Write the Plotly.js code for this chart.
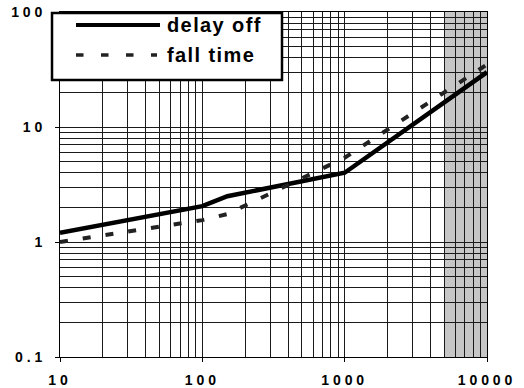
<!DOCTYPE html>
<html>
<head>
<meta charset="utf-8">
<script src="https://cdn.plot.ly/plotly-3.0.1.min.js"></script>
<style>
  html, body { margin: 0; padding: 0; background: #fff; }
  #chart { width: 524px; height: 388px; }
  .xtick text, .ytick text { letter-spacing: 3.9px; }
  .annotation-text { letter-spacing: 1.4px; }
</style>
</head>
<body>
<div id="chart"></div>
<script>
// Switching time versus load (log-log)
const delayOffX = [10, 100, 150, 1000, 10000];
const delayOffY = [1.2, 2.05, 2.5, 4.0, 30];

const fallTimeX = [10, 100, 150, 1000, 10000];
const fallTimeY = [1.0, 1.55, 1.75, 5.4, 35];

const seriesNames = ['delay off', 'fall time'];

const xTickVals = [10, 100, 1000, 10000];
const xTickText = ['10', '100', '1000', '10000'];
const yTickVals = [0.1, 1, 10, 100];
const yTickText = ['0.1', '1', '10', '100'];

// shaded band at the top end of the range
const bandFrom = 5000;
const bandTo = 10000;

// 2..9 subdivisions of each decade for the fine grid
function decadeSubdivisions(first, last) {
  const out = [];
  for (let d = first; d < last; d *= 10) {
    for (let k = 2; k <= 9; k++) out.push(d * k);
  }
  return out;
}
const xMinor = decadeSubdivisions(10, 10000);
const yMinor = decadeSubdivisions(0.1, 100);

const fontFamily = 'Liberation Sans, Arial, sans-serif';
const tickFont = { family: fontFamily, size: 14, color: '#000', weight: 700 };
const gridColor = '#1a1a1a';

const lineStyles = [
  { color: '#000', width: 4.5 },
  { color: '#222', width: 4, dash: '8px,15px' }
];

const traces = [
  {
    name: seriesNames[0],
    x: delayOffX, y: delayOffY,
    type: 'scatter', mode: 'lines',
    line: lineStyles[0]
  },
  {
    name: seriesNames[1],
    x: fallTimeX, y: fallTimeY,
    type: 'scatter', mode: 'lines',
    line: lineStyles[1]
  }
];

const axisCommon = {
  type: 'log',
  tickmode: 'array',
  ticks: 'outside', ticklen: 4, tickwidth: 1, tickcolor: '#000',
  showgrid: true, gridcolor: gridColor, gridwidth: 1,
  showline: true, linecolor: '#000', linewidth: 1, mirror: true,
  zeroline: false,
  tickfont: tickFont
};

// boxed key in the upper-left corner (paper coordinates)
const key = {
  x0: -0.0187, x1: 0.5199, y0: 0.8029, y1: 0.9971,
  sampleX0: 0.0375, sampleX1: 0.2342, dashedX1: 0.2272,
  textX: 0.2459,
  rowY: [0.9623, 0.8754]
};

const shapes = [
  {
    type: 'rect', xref: 'x', yref: 'paper',
    x0: bandFrom, x1: bandTo, y0: 0, y1: 1,
    fillcolor: '#c6c6c6', line: { width: 0 }, layer: 'below'
  },
  {
    type: 'rect', xref: 'paper', yref: 'paper',
    x0: key.x0, x1: key.x1, y0: key.y0, y1: key.y1,
    fillcolor: '#fff', line: { color: '#000', width: 2.5 }, layer: 'above'
  },
  {
    type: 'line', xref: 'paper', yref: 'paper',
    x0: key.sampleX0, x1: key.sampleX1, y0: key.rowY[0], y1: key.rowY[0],
    line: { color: lineStyles[0].color, width: 4 }, layer: 'above'
  },
  {
    type: 'line', xref: 'paper', yref: 'paper',
    x0: key.sampleX0, x1: key.dashedX1, y0: key.rowY[1], y1: key.rowY[1],
    line: { color: lineStyles[1].color, width: 3.5, dash: '7.5px,17.5px' }, layer: 'above'
  }
];

const annotations = seriesNames.map((name, i) => ({
  xref: 'paper', yref: 'paper',
  x: key.textX, y: key.rowY[i],
  xanchor: 'left', yanchor: 'middle',
  text: name, showarrow: false,
  font: { family: fontFamily, size: 20, color: '#000', weight: 700 }
}));

const layout = {
  width: 524, height: 388,
  margin: { l: 60, r: 37, t: 12, b: 31 },
  paper_bgcolor: '#fff', plot_bgcolor: '#fff',
  showlegend: false,
  xaxis: Object.assign({}, axisCommon, {
    range: [1, 4],
    tickvals: xTickVals, ticktext: xTickText,
    ticklabelstandoff: 6,
    minor: { tickmode: 'array', tickvals: xMinor, showgrid: true, gridcolor: gridColor, gridwidth: 1, ticks: '' }
  }),
  yaxis: Object.assign({}, axisCommon, {
    range: [-1, 2],
    tickvals: yTickVals, ticktext: yTickText,
    ticklabelstandoff: 6,
    minor: { tickmode: 'array', tickvals: yMinor, showgrid: true, gridcolor: gridColor, gridwidth: 1, ticks: '' }
  }),
  shapes: shapes,
  annotations: annotations
};

Plotly.newPlot('chart', traces, layout, { displayModeBar: false, staticPlot: true });
</script>
</body>
</html>
